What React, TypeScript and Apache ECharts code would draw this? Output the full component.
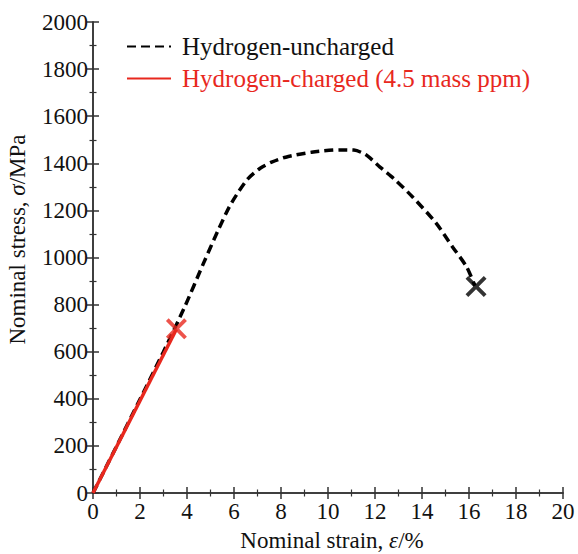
import React, { useEffect, useRef } from "react";
import * as echarts from "echarts";

const unchargedStrain = [0, 1, 2, 3, 3.9, 4.7, 5.3, 5.8, 6.2, 6.6, 7.1, 7.6, 8.2, 9.3, 10.5, 11.1, 11.6, 12.2, 12.8, 13.6, 14.6, 15.3, 15.9, 16.25];
const unchargedStress = [0, 198, 398, 600, 790, 975, 1110, 1215, 1280, 1335, 1378, 1405, 1426, 1447, 1457, 1456, 1437, 1385, 1335, 1257, 1146, 1045, 960, 880];
const chargedStrain = [0, 3.55];
const chargedStress = [0, 695];
const fracturePoints = [
  { strain: 16.3, stress: 877, color: "#000000" },
  { strain: 3.55, stress: 697, color: "#e8281e" },
];
const seriesNames = ["Hydrogen-uncharged", "Hydrogen-charged (4.5 mass ppm)"];

const FONT = "Liberation Serif";
const XPATH = "path://M0,2.6L2.6,0L10,7.4L17.4,0L20,2.6L12.6,10L20,17.4L17.4,20L10,12.6L2.6,20L0,17.4L7.4,10Z";

export default function App() {
  const ref = useRef<HTMLDivElement>(null);
  useEffect(() => {
    const chart = echarts.init(ref.current!, null, { renderer: "svg" });
    const axisCommon = {
      min: 0,
      axisLine: { show: true, lineStyle: { color: "#333", width: 1.5 } },
      axisTick: { show: true, inside: true, length: 6, lineStyle: { color: "#333", width: 1.5 } },
      minorTick: { show: true, splitNumber: 2, length: 3.5, lineStyle: { color: "#333", width: 1.2 } },
      splitLine: { show: false },
    };
    const label = {
      fontFamily: FONT,
      fontSize: 23,
      color: "#111",
      formatter: (v: number) => String(v),
    };
    chart.setOption({
      animation: false,
      backgroundColor: "#ffffff",
      textStyle: { fontFamily: FONT },
      grid: { left: 93, right: 15, top: 22, bottom: 61, outerBoundsMode: "none", containLabel: false },
      legend: {
        left: 121,
        top: 29,
        orient: "vertical",
        itemWidth: 44,
        itemHeight: 14,
        itemGap: 7,
        itemStyle: { opacity: 0 },
        textStyle: { fontFamily: FONT, fontSize: 25, padding: [0, 0, 0, 6] },
        data: [
          { name: seriesNames[0], textStyle: { color: "#111", fontFamily: FONT, fontSize: 25, padding: [0, 0, 0, 6] } },
          { name: seriesNames[1], textStyle: { color: "#e8281e", fontFamily: FONT, fontSize: 25, padding: [0, 0, 0, 6] } },
        ],
      },
      xAxis: [
        {
          ...axisCommon,
          type: "value",
          max: 20,
          interval: 2,
          position: "bottom",
          axisLabel: { ...label, margin: 7 },
          name: "Nominal strain, {i|ε}/%",
          nameLocation: "middle",
          nameGap: 36,
          nameTextStyle: {
            fontFamily: FONT, fontSize: 23, color: "#111", lineHeight: 23, padding: [0, 0, 0, 8],
            rich: { i: { fontFamily: FONT, fontSize: 23, lineHeight: 23, fontStyle: "italic", color: "#111" } },
          },
        },
        {
          ...axisCommon,
          type: "value",
          max: 20,
          interval: 2,
          position: "top",
          axisLabel: { show: false },
        },
      ],
      yAxis: [
        {
          ...axisCommon,
          type: "value",
          max: 2000,
          interval: 200,
          position: "left",
          axisLabel: { ...label, margin: 5 },
          name: "Nominal stress, {i|σ}/MPa",
          nameLocation: "middle",
          nameGap: 64,
          nameTextStyle: {
            fontFamily: FONT, fontSize: 23, color: "#111", padding: [0, 0, 0, 36],
            rich: { i: { fontFamily: FONT, fontSize: 23, fontStyle: "italic", color: "#111" } },
          },
        },
        {
          ...axisCommon,
          type: "value",
          max: 2000,
          interval: 200,
          position: "right",
          axisLabel: { show: false },
        },
      ],
      series: [
        {
          name: seriesNames[0],
          type: "line",
          symbol: "none",
          smooth: 0.25,
          data: unchargedStrain.map((s, i) => [s, unchargedStress[i]]),
          lineStyle: { color: "#000", width: 3.5, type: [9, 5] },
          itemStyle: { color: "#000" },
          z: 2,
        },
        {
          name: seriesNames[1],
          type: "line",
          symbol: "none",
          data: chargedStrain.map((s, i) => [s, chargedStress[i]]),
          lineStyle: { color: "#e8281e", width: 3.5 },
          itemStyle: { color: "#e8281e" },
          z: 3,
        },
        {
          name: "fracture",
          type: "scatter",
          symbol: XPATH,
          symbolSize: 21,
          data: fracturePoints.map((p) => ({ value: [p.strain, p.stress], itemStyle: { color: p.color } })),
          z: 4,
        },
      ],
    });
    return () => chart.dispose();
  }, []);
  return (
    <div
      ref={ref}
      style={{ position: "fixed", left: 0, top: 0, width: 578, height: 554, background: "#fff" }}
    />
  );
}
